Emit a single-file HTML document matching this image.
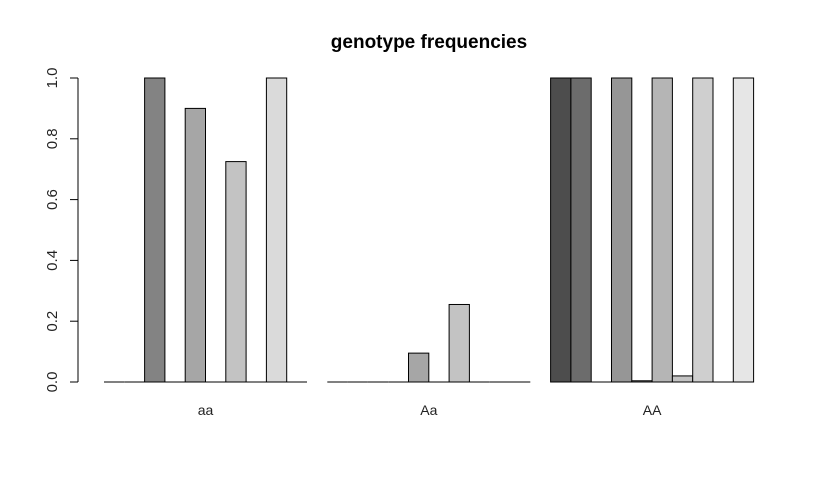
<!DOCTYPE html>
<html><head><meta charset="utf-8"><style>
body{margin:0;background:#fff}
svg text{font-family:"Liberation Sans",Arial,sans-serif}
</style></head><body>
<svg id="chart" width="820" height="480" xmlns="http://www.w3.org/2000/svg">
<rect width="820" height="480" fill="#fff"/>
<text x="429" y="48" text-anchor="middle" font-size="19" font-weight="bold">genotype frequencies</text>
<g id="axis"></g>
<g id="bars"></g>
<g id="xlabels"></g>
</svg>
<script>
const categories = ["aa", "Aa", "AA"];
const seriesAa = [0, 0, 1, 0, 0.9, 0, 0.725, 0, 1, 0];
const seriesAaHet = [0, 0, 0, 0, 0.095, 0, 0.255, 0, 0, 0];
const seriesAAHom = [1, 1, 0, 1, 0.004, 1, 0.02, 1, 0, 1];
const yTicks = [0, 0.2, 0.4, 0.6, 0.8, 1.0];
const yTickLabels = ["0.0", "0.2", "0.4", "0.6", "0.8", "1.0"];
const colors = ["#4d4d4d","#6c6c6c","#838383","#969696","#a6a6a6","#b5b5b5","#c3c3c3","#cfcfcf","#dadada","#e6e6e6"];
const series = [seriesAa, seriesAaHet, seriesAAHom];
const NS = "http://www.w3.org/2000/svg";
const y0 = 382, y1 = 78;
const yScale = v => y0 - v * (y0 - y1);
const barW = 20.3, groupStart = 104, groupStep = 223.3;
const xScale = (g, i) => groupStart + g * groupStep + i * barW;
function mk(tag, attrs, parent) { const e = document.createElementNS(NS, tag); for (const k in attrs) e.setAttribute(k, attrs[k]); parent.appendChild(e); return e; }
const axis = document.getElementById('axis');
const ax = mk('line', {x1:78, x2:78, y1:yScale(yTicks[0]), y2:yScale(yTicks[yTicks.length-1]), stroke:'#000'}, axis);


yTicks.forEach((t, i) => {
  const y = yScale(t);
  const tk = mk('line', {x1:70, x2:78, y1:y, y2:y, stroke:'#000'}, axis);
  
  
  const tx = mk('text', {x:0, y:0, 'font-size':15, 'text-anchor':'middle', transform:`translate(57,${y}) rotate(-90)`, fill:'#222'}, axis);
  tx.textContent = yTickLabels[i];
  
  
});
const bars = document.getElementById('bars');
const xl = document.getElementById('xlabels');
categories.forEach((c, g) => {
  const vals = series[g];
  vals.forEach((v, i) => {
    const x = xScale(g, i);
    if (v > 0) {
      const r = mk('rect', {x:x, y:yScale(v), width:barW, height:y0 - yScale(v), fill:colors[i], stroke:'#000', 'stroke-width':1}, bars);
      
      
    } else {
      const l = mk('line', {x1:x, x2:x + barW, y1:y0, y2:y0, stroke:'#000'}, bars);
      
      
    }
  });
  const t = mk('text', {x:xScale(g, 5), y:415, 'font-size':14, 'text-anchor':'middle', fill:'#222'}, xl);
  t.textContent = c;
  
  
});
</script>
</body></html>
